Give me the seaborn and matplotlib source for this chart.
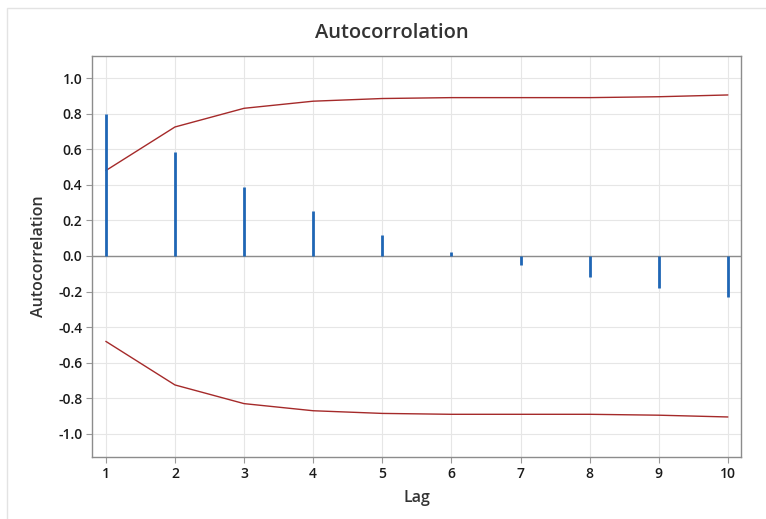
import numpy as np
import pandas as pd
import matplotlib
matplotlib.use("Agg")
import matplotlib.pyplot as plt
import seaborn as sns

# Dados
lags = [1, 2, 3, 4, 5, 6, 7, 8, 9, 10]
acf = [0.80, 0.585, 0.39, 0.25, 0.12, 0.02, -0.05, -0.12, -0.18, -0.23]
limite = [0.48, 0.725, 0.83, 0.87, 0.885, 0.89, 0.89, 0.89, 0.895, 0.905]
yticks = [-1.0, -0.8, -0.6, -0.4, -0.2, 0.0, 0.2, 0.4, 0.6, 0.8, 1.0]

df = pd.DataFrame({'Lag': lags, 'acf': acf,
                   'sup': limite, 'inf': [-v for v in limite]})

sns.set_style('white')
plt.rcParams['font.family'] = ['Open Sans', 'DejaVu Sans']

fig = plt.figure(figsize=(7.66, 5.19), dpi=100)
ax = fig.add_axes([92 / 766, 1 - 457 / 519, (741 - 92) / 766, (457 - 56) / 519])

# moldura externa clara
fig.patches.append(plt.Rectangle((7 / 766, -0.05), 1.1, 1 - 8 / 519 + 0.05,
                                 transform=fig.transFigure, fill=False,
                                 edgecolor='#e3e3e3', linewidth=1))

for y in yticks:
    ax.axhline(y, color='#e6e6e6', linewidth=0.8, zorder=0)
for x in lags:
    ax.axvline(x, color='#e6e6e6', linewidth=0.8, zorder=0)
ax.axhline(0, color='#8c8c8c', linewidth=1, zorder=1)

ax.vlines(df['Lag'], 0, df['acf'], color='#1f66b5', linewidth=2.0, zorder=3)
sns.lineplot(data=df, x='Lag', y='sup', color='#a52a2a', linewidth=1, ax=ax, zorder=2)
sns.lineplot(data=df, x='Lag', y='inf', color='#a52a2a', linewidth=1, ax=ax, zorder=2)

ax.set_xlim(0.8, 10.19)
ax.set_ylim(-1.13, 1.124)
ax.set_xticks(lags)
ax.set_yticks(yticks)
ax.set_yticklabels([f'{v:.1f}' for v in yticks])
ax.tick_params(axis='both', labelsize=10, labelcolor='#1a1a1a', length=4,
               width=0.8, direction='out', left=True, bottom=True,
               color='#9a9a9a', pad=3)
for lab in ax.get_xticklabels() + ax.get_yticklabels():
    lab.set_fontweight('semibold')
for s in ax.spines.values():
    s.set_color('#8c8c8c')
    s.set_linewidth(1)

ax.set_xlabel('Lag', fontsize=11.5, color='#333333', labelpad=7,
              fontweight='semibold')
ax.set_ylabel('Autocorrelation', fontsize=11.5, color='#333333', labelpad=8,
              fontweight='semibold')
fig.text(392 / 766, 1 - 33 / 519, 'Autocorrolation', fontsize=14.5,
         color='#333333', ha='center', va='center', fontweight='semibold')

fig.savefig('out.png', dpi=100)
